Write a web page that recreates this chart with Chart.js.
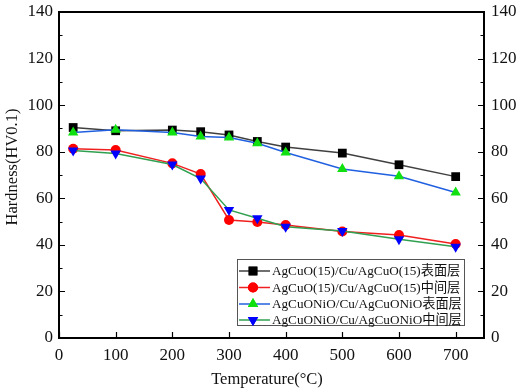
<!DOCTYPE html>
<html><head><meta charset="utf-8">
<script src="https://cdn.jsdelivr.net/npm/chart.js@4/dist/chart.umd.min.js"></script>
<style>html,body{margin:0;padding:0;background:#fff}#wrap{width:520px;height:392px}</style>
</head><body><div id="wrap"><canvas id="c" width="520" height="392"></canvas></div>
<script>
const temperatures = [25, 100, 200, 250, 300, 350, 400, 500, 600, 700];
const seriesLabels = ['AgCuO(15)/Cu/AgCuO(15)表面层','AgCuO(15)/Cu/AgCuO(15)中间层','AgCuONiO/Cu/AgCuONiO表面层','AgCuONiO/Cu/AgCuONiO中间层'];
const agcuoSurface = [90.4, 89.0, 89.3, 88.6, 87.2, 84.4, 82.0, 79.4, 74.4, 69.3];
const agcuoMiddle  = [81.3, 80.7, 75.0, 70.4, 50.7, 49.8, 48.5, 45.7, 44.2, 40.4];
const nioSurface   = [88.3, 89.4, 88.3, 86.5, 86.1, 83.6, 79.7, 72.6, 69.5, 62.5];
const nioMiddle    = [80.5, 79.2, 74.5, 68.5, 55.0, 51.4, 47.8, 45.9, 42.4, 39.2];
const xTicks = [0,100,200,300,400,500,600,700];
const yTicks = [0,20,40,60,80,100,120,140];
const xTitle = 'Temperature(°C)';
const yTitle = 'Hardness(HV0.1)';

const FONT = "'Liberation Serif','Noto Sans CJK SC',serif";
function pts(arr){ return temperatures.map((t,i)=>({x:t,y:arr[i]})); }
const lineColors = ['#404040','#f02020','#2060e0','#30a050'];
const markColors = ['#000000','#ff0000','#10e010','#0000ff'];
const styles = ['rect','circle','triangle','triangle'];
const rots = [0,0,0,180];
const radii = [6.2,5,6,6];
const allData = [agcuoSurface, agcuoMiddle, nioSurface, nioMiddle];

const datasets = allData.map((d,i)=>({
  label: seriesLabels[i], data: pts(d), borderColor: lineColors[i], borderWidth: 1.5,
  backgroundColor: markColors[i], pointBackgroundColor: markColors[i], pointBorderColor: markColors[i],
  pointBorderWidth: 0, pointStyle: styles[i], pointRotation: rots[i], pointRadius: radii[i],
  tension: 0, fill: false, order: allData.length - 1 - i
}));

const framePlugin = {
  id: 'frame',
  afterDraw(chart){
    const ctx = chart.ctx, a = chart.chartArea;
    const xs = chart.scales.x, ys = chart.scales.y;
    ctx.save();
    ctx.strokeStyle = '#000';
    ctx.lineWidth = 2;
    ctx.strokeRect(a.left, a.top, a.right - a.left, a.bottom - a.top);
    ctx.lineWidth = 1.2;
    ctx.beginPath();
    for (let v = 0; v <= 140; v += 10) {
      const y = Math.round(ys.getPixelForValue(v)) + 0.5;
      const len = (v % 20 === 0) ? 6 : 3.5;
      ctx.moveTo(a.left, y); ctx.lineTo(a.left + len, y);
      ctx.moveTo(a.right, y); ctx.lineTo(a.right - len, y);
    }
    xTicks.forEach(v => {
      const x = Math.round(xs.getPixelForValue(v)) + 0.5;
      ctx.moveTo(x, a.bottom); ctx.lineTo(x, a.bottom - 6);
    });
    ctx.stroke();

    // axis titles
    ctx.fillStyle = '#111';
    ctx.font = "16.5px " + FONT;
    ctx.textAlign = 'center';
    ctx.textBaseline = 'middle';
    ctx.fillText(xTitle, 267, 380);
    ctx.save();
    ctx.translate(13, 167);
    ctx.rotate(-Math.PI / 2);
    ctx.fillText(yTitle, 0, 0);
    ctx.restore();

    // legend
    ctx.textAlign = 'left';
    const bx = 237, by = 259, bw = 227, bh = 66;
    ctx.lineWidth = 1;
    ctx.strokeStyle = '#555';
    ctx.strokeRect(bx + 0.5, by + 0.5, bw, bh);
    ctx.font = "13.2px " + FONT;
    const rowY = [271, 287.5, 304, 320];
    chart.data.datasets.forEach((ds, i) => {
      const y = rowY[i];
      ctx.strokeStyle = ds.borderColor; ctx.lineWidth = 1.5;
      ctx.beginPath(); ctx.moveTo(239, y); ctx.lineTo(270, y); ctx.stroke();
      ctx.fillStyle = ds.pointBackgroundColor;
      Chart.helpers.drawPoint(ctx, {pointStyle: ds.pointStyle, rotation: ds.pointRotation, radius: ds.pointRadius, borderWidth: 0}, 253, y);
      ctx.fill();
      ctx.fillStyle = '#111';
      ctx.fillText(ds.label, 272, y + 1);
    });
    ctx.restore();
  }
};

function noPadV(s){ s.paddingTop = 0; s.paddingBottom = 0; }

new Chart(document.getElementById('c'), {
  type: 'line',
  data: { datasets },
  options: {
    responsive: false, animation: false, devicePixelRatio: 1,
    layout: { padding: { top: 12, right: 0, bottom: 0, left: 0 } },
    plugins: { legend: { display: false }, tooltip: { enabled: false } },
    scales: {
      x: {
        type: 'linear', min: 0, max: 750,
        afterBuildTicks: s => { s.ticks = xTicks.map(v => ({value: v})); },
        afterFit: s => { s.height = 54; s.paddingLeft = 0; s.paddingRight = 0; },
        grid: { display: false, drawTicks: false },
        border: { display: true, color: '#000', width: 2 },
        ticks: { color: '#111', font: { family: FONT, size: 17 }, padding: 7 }
      },
      y: {
        type: 'linear', min: 0, max: 140, position: 'left',
        afterBuildTicks: s => { s.ticks = yTicks.map(v => ({value: v})); },
        afterFit: s => { s.width = 59; noPadV(s); },
        grid: { display: false, drawTicks: false },
        border: { display: true, color: '#000', width: 2 },
        ticks: { color: '#111', font: { family: FONT, size: 17 }, padding: 6 }
      },
      y2: {
        type: 'linear', min: 0, max: 140, position: 'right',
        afterBuildTicks: s => { s.ticks = yTicks.map(v => ({value: v})); },
        afterFit: s => { s.width = 36; noPadV(s); },
        grid: { display: false, drawTicks: false },
        border: { display: true, color: '#000', width: 2 },
        ticks: { color: '#111', font: { family: FONT, size: 17 }, padding: 7 }
      }
    }
  },
  plugins: [framePlugin]
});
</script></body></html>
